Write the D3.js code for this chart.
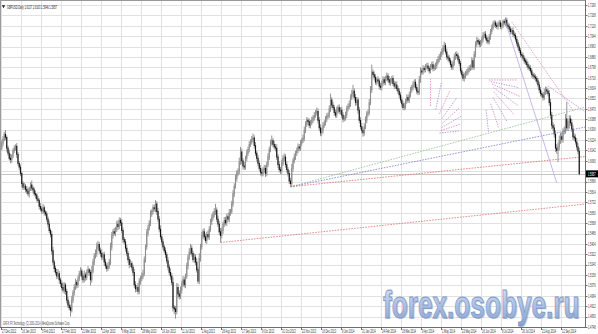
<!DOCTYPE html>
<html>
<head>
<meta charset="utf-8">
<script src="https://cdn.jsdelivr.net/npm/d3@7"></script>
<style>
  body { margin: 0; background: #ffffff; }
  svg { display: block; font-family: 'Liberation Sans', Arial, sans-serif; }
</style>
</head>
<body>
<div id="chart"></div>
<script>
// GBPUSD daily bars, values in pips above 1.0000 (6160 -> 1.6160)
const closes = [
  6160, 6200, 6230, 6270, 6245, 6160, 6120, 6080, 6070, 6100, 6140, 6160, 6175, 6110, 6040, 6010,
  5960, 5880, 5850, 5860, 5835, 5820, 5800, 5840, 5870, 5845, 5830, 5800, 5790, 5760, 5745, 5700,
  5680, 5665, 5690, 5655, 5640, 5600, 5560, 5510, 5480, 5350, 5260, 5210, 5180, 5150, 5170, 5120,
  5090, 5060, 5040, 5080, 5030, 4960, 4920, 4900, 4880, 4960, 5020, 5060, 5100, 5080, 5130, 5170,
  5190, 5150, 5120, 5160, 5140, 5180, 5200, 5180, 5120, 5190, 5260, 5310, 5330, 5380, 5400, 5350,
  5330, 5300, 5320, 5260, 5230, 5210, 5230, 5260, 5380, 5470, 5500, 5490, 5520, 5560, 5540, 5590,
  5570, 5510, 5440, 5420, 5370, 5330, 5280, 5240, 5250, 5220, 5180, 5080, 5050, 5060, 5030, 5110,
  5130, 5150, 5170, 5280, 5380, 5490, 5530, 5570, 5640, 5660, 5690, 5680, 5720, 5660, 5600, 5520,
  5460, 5420, 5380, 5350, 5320, 5270, 5220, 5180, 5150, 5100, 4900, 4890, 4870, 5060, 5010, 4990,
  5040, 5090, 5120, 5080, 5150, 5230, 5300, 5340, 5370, 5330, 5280, 5300, 5260, 5200, 5110, 5290,
  5380, 5470, 5500, 5460, 5430, 5480, 5460, 5520, 5580, 5610, 5640, 5660, 5670, 5600, 5560, 5500,
  5470, 5510, 5560, 5590, 5570, 5620, 5600, 5650, 5660, 5720, 5800, 5860, 5920, 5960, 5980, 6050,
  6130, 6060, 6020, 6010, 6080, 6120, 6150, 6190, 6210, 6230, 6240, 6180, 6120, 6080, 6040, 6000,
  5970, 5960, 5990, 6000, 5960, 6030, 6090, 6150, 6200, 6220, 6190, 6170, 6160, 6090, 6030, 5990,
  5980, 6040, 6080, 6090, 6030, 5990, 5960, 5900, 5880, 6000, 6060, 6090, 6120, 6140, 6170, 6160,
  6200, 6220, 6240, 6300, 6350, 6380, 6370, 6340, 6360, 6380, 6400, 6420, 6440, 6450, 6380, 6320,
  6280, 6300, 6340, 6360, 6390, 6410, 6420, 6470, 6540, 6500, 6480, 6440, 6420, 6460, 6480, 6450,
  6460, 6420, 6390, 6400, 6420, 6470, 6490, 6510, 6560, 6590, 6610, 6560, 6520, 6540, 6460, 6380,
  6330, 6300, 6280, 6330, 6380, 6430, 6440, 6520, 6620, 6760, 6740, 6720, 6680, 6700, 6690, 6650,
  6640, 6670, 6700, 6680, 6710, 6730, 6700, 6680, 6690, 6710, 6670, 6650, 6660, 6630, 6610, 6580,
  6540, 6510, 6480, 6490, 6530, 6560, 6540, 6580, 6620, 6640, 6660, 6680, 6640, 6610, 6600, 6700,
  6770, 6760, 6790, 6780, 6800, 6810, 6790, 6770, 6800, 6820, 6790, 6800, 6810, 6840, 6860, 6880,
  6900, 6920, 6950, 6970, 6920, 6880, 6870, 6850, 6820, 6800, 6830, 6880, 6900, 6890, 6860, 6830,
  6770, 6740, 6710, 6730, 6750, 6760, 6780, 6790, 6800, 6850, 6800, 6900, 6980, 7010, 7000, 6980,
  6990, 7020, 7050, 7060, 7030, 7010, 7000, 7040, 7080, 7110, 7140, 7150, 7130, 7120, 7140, 7150,
  7120, 7130, 7160, 7150, 7170, 7130, 7120, 7100, 7080, 7090, 7060, 7050, 7020, 6990, 6960, 6930,
  6900, 6890, 6870, 6850, 6840, 6820, 6800, 6790, 6770, 6740, 6730, 6720, 6710, 6690, 6660, 6620,
  6590, 6580, 6560, 6600, 6620, 6610, 6590, 6520, 6420, 6340, 6320, 6270, 6160, 6140, 6170, 6220,
  6250, 6230, 6290, 6300, 6390, 6320, 6340, 6390, 6360, 6310, 6250, 6240, 6210, 6170, 6137, 5957
];

const opens = [
  6140, 6160, 6200, 6230, 6270, 6245, 6160, 6120, 6080, 6070, 6100, 6140, 6160, 6175, 6110, 6040,
  6010, 5960, 5880, 5850, 5860, 5835, 5820, 5800, 5840, 5870, 5845, 5830, 5800, 5790, 5760, 5745,
  5700, 5680, 5665, 5690, 5655, 5640, 5600, 5560, 5510, 5480, 5350, 5260, 5210, 5180, 5150, 5170,
  5120, 5090, 5060, 5040, 5080, 5030, 4960, 4920, 4900, 4880, 4960, 5020, 5060, 5100, 5080, 5130,
  5170, 5190, 5150, 5120, 5160, 5140, 5180, 5200, 5180, 5120, 5190, 5260, 5310, 5330, 5380, 5400,
  5350, 5330, 5300, 5320, 5260, 5230, 5210, 5230, 5260, 5380, 5470, 5500, 5490, 5520, 5560, 5540,
  5590, 5570, 5510, 5440, 5420, 5370, 5330, 5280, 5240, 5250, 5220, 5180, 5080, 5050, 5060, 5030,
  5110, 5130, 5150, 5170, 5280, 5380, 5490, 5530, 5570, 5640, 5660, 5690, 5680, 5720, 5660, 5600,
  5520, 5460, 5420, 5380, 5350, 5320, 5270, 5220, 5180, 5150, 5100, 4900, 4890, 4870, 5060, 5010,
  4990, 5040, 5090, 5120, 5080, 5150, 5230, 5300, 5340, 5370, 5330, 5280, 5300, 5260, 5200, 5110,
  5290, 5380, 5470, 5500, 5460, 5430, 5480, 5460, 5520, 5580, 5610, 5640, 5660, 5670, 5600, 5560,
  5500, 5470, 5510, 5560, 5590, 5570, 5620, 5600, 5650, 5660, 5720, 5800, 5860, 5920, 5960, 5980,
  6050, 6130, 6060, 6020, 6010, 6080, 6120, 6150, 6190, 6210, 6230, 6240, 6180, 6120, 6080, 6040,
  6000, 5970, 5960, 5990, 6000, 5960, 6030, 6090, 6150, 6200, 6220, 6190, 6170, 6160, 6090, 6030,
  5990, 5980, 6040, 6080, 6090, 6030, 5990, 5960, 5900, 5880, 6000, 6060, 6090, 6120, 6140, 6170,
  6160, 6200, 6220, 6240, 6300, 6350, 6380, 6370, 6340, 6360, 6380, 6400, 6420, 6440, 6450, 6380,
  6320, 6280, 6300, 6340, 6360, 6390, 6410, 6420, 6470, 6540, 6500, 6480, 6440, 6420, 6460, 6480,
  6450, 6460, 6420, 6390, 6400, 6420, 6470, 6490, 6510, 6560, 6590, 6610, 6560, 6520, 6540, 6460,
  6380, 6330, 6300, 6280, 6330, 6380, 6430, 6440, 6520, 6620, 6760, 6740, 6720, 6680, 6700, 6690,
  6650, 6640, 6670, 6700, 6680, 6710, 6730, 6700, 6680, 6690, 6710, 6670, 6650, 6660, 6630, 6610,
  6580, 6540, 6510, 6480, 6490, 6530, 6560, 6540, 6580, 6620, 6640, 6660, 6680, 6640, 6610, 6600,
  6700, 6770, 6760, 6790, 6780, 6800, 6810, 6790, 6770, 6800, 6820, 6790, 6800, 6810, 6840, 6860,
  6880, 6900, 6920, 6950, 6970, 6920, 6880, 6870, 6850, 6820, 6800, 6830, 6880, 6900, 6890, 6860,
  6830, 6770, 6740, 6710, 6730, 6750, 6760, 6780, 6790, 6800, 6850, 6800, 6900, 6980, 7010, 7000,
  6980, 6990, 7020, 7050, 7060, 7030, 7010, 7000, 7040, 7080, 7110, 7140, 7150, 7130, 7120, 7140,
  7150, 7120, 7130, 7160, 7150, 7170, 7130, 7120, 7100, 7080, 7090, 7060, 7050, 7020, 6990, 6960,
  6930, 6900, 6890, 6870, 6850, 6840, 6820, 6800, 6790, 6770, 6740, 6730, 6720, 6710, 6690, 6660,
  6620, 6590, 6580, 6560, 6600, 6620, 6610, 6590, 6520, 6420, 6340, 6320, 6270, 6160, 6140, 6170,
  6220, 6250, 6230, 6290, 6300, 6390, 6320, 6340, 6390, 6360, 6310, 6250, 6240, 6210, 6170, 6137
];

// shadow lengths in pips: high above the body, low below the body
const upperWick = [
  18, 22, 25, 20, 33, 15, 20, 28, 35, 12, 18, 22, 15, 25, 20, 18,
  22, 15, 20, 28, 18, 25, 30, 16, 22, 35, 18, 20, 25, 15, 22, 18,
  25, 20, 30, 18, 15, 22, 20, 28, 16, 25, 30, 18, 22, 26, 35, 20,
  18, 25, 40, 22, 15, 20, 28, 30, 24, 35, 20, 26, 30, 18, 25, 22,
  30, 20, 25, 35, 18, 22, 28, 15, 20, 40, 26, 22, 30, 35, 28, 20,
  25, 32, 18, 22, 26, 20, 30, 25, 35, 28, 22, 30, 18, 26, 32, 24,
  20, 30, 25, 18, 22, 28, 20, 24, 30, 18, 22, 26, 30, 20, 35, 24,
  22, 28, 30, 25, 20, 32, 26, 22, 30, 18, 24, 26, 30, 20, 28, 25,
  30, 22, 25, 18, 26, 20, 28, 22, 30, 24, 40, 20, 25, 35, 30, 26,
  28, 22, 30, 25, 20, 26, 22, 30, 35, 25, 20, 28, 24, 30, 22, 40,
  26, 30, 22, 28, 25, 20, 30, 24, 22, 28, 20, 26, 50, 22, 28, 25,
  30, 22, 20, 26, 28, 22, 25, 30, 20, 24, 28, 22, 30, 25, 20, 35,
  40, 25, 22, 30, 20, 28, 22, 25, 20, 26, 35, 22, 28, 20, 25, 22,
  26, 30, 22, 28, 25, 24, 30, 22, 28, 40, 20, 26, 24, 30, 22, 28,
  22, 30, 26, 28, 22, 25, 20, 24, 26, 35, 22, 28, 20, 24, 26, 22,
  25, 20, 28, 30, 22, 26, 20, 24, 22, 28, 20, 25, 22, 30, 24, 26,
  28, 22, 25, 20, 24, 26, 22, 28, 50, 22, 26, 20, 24, 28, 22, 25,
  22, 26, 24, 20, 28, 25, 22, 26, 24, 30, 50, 22, 28, 24, 20, 26,
  24, 28, 22, 26, 30, 22, 25, 28, 30, 60, 22, 26, 24, 20, 28, 22,
  26, 22, 28, 24, 20, 26, 22, 28, 24, 20, 26, 22, 25, 28, 22, 24,
  22, 26, 24, 28, 20, 25, 22, 26, 24, 20, 28, 22, 25, 24, 20, 30,
  28, 22, 25, 20, 24, 22, 26, 20, 24, 22, 25, 20, 24, 22, 26, 24,
  22, 25, 24, 30, 20, 26, 22, 24, 20, 25, 22, 26, 20, 24, 22, 25,
  20, 24, 22, 26, 20, 24, 22, 25, 20, 28, 22, 26, 24, 28, 22, 20,
  24, 22, 26, 20, 24, 22, 25, 22, 20, 24, 22, 20, 18, 22, 20, 22,
  20, 18, 15, 20, 20, 22, 20, 24, 22, 20, 24, 22, 20, 24, 22, 20,
  22, 20, 24, 22, 20, 25, 22, 20, 24, 22, 20, 24, 22, 20, 25, 22,
  24, 22, 20, 30, 26, 24, 22, 28, 30, 26, 24, 28, 30, 32, 35, 40,
  30, 35, 28, 30, 40, 135, 35, 30, 28, 30, 32, 26, 28, 30, 30, 26
];

const lowerWick = [
  20, 18, 25, 15, 22, 28, 20, 18, 30, 25, 20, 18, 22, 28, 20, 25,
  22, 28, 20, 18, 25, 22, 20, 30, 18, 22, 25, 20, 28, 22, 18, 25,
  20, 25, 22, 28, 18, 22, 26, 20, 25, 30, 22, 28, 20, 25, 22, 30,
  25, 22, 20, 30, 28, 25, 22, 20, 50, 18, 22, 25, 20, 28, 22, 20,
  22, 28, 25, 20, 26, 22, 25, 30, 45, 22, 20, 25, 22, 28, 20, 25,
  28, 22, 25, 30, 22, 26, 20, 24, 22, 28, 25, 20, 26, 22, 28, 20,
  25, 22, 28, 20, 26, 24, 22, 28, 20, 25, 30, 22, 28, 24, 26, 22,
  28, 22, 25, 20, 24, 22, 26, 20, 25, 22, 24, 20, 26, 28, 22, 25,
  22, 26, 24, 20, 28, 22, 25, 24, 28, 22, 30, 40, 56, 22, 30, 25,
  22, 28, 24, 20, 26, 22, 28, 24, 22, 26, 20, 28, 25, 22, 20, 24,
  26, 22, 28, 24, 20, 26, 22, 24, 20, 26, 22, 25, 28, 24, 22, 26,
  55, 22, 26, 24, 20, 25, 22, 26, 24, 20, 22, 25, 20, 24, 22, 25,
  22, 26, 28, 24, 20, 25, 22, 24, 20, 22, 25, 24, 22, 26, 24, 22,
  26, 24, 22, 25, 28, 22, 20, 24, 22, 20, 24, 22, 26, 24, 28, 22,
  24, 22, 20, 26, 24, 22, 25, 24, 25, 22, 26, 20, 24, 22, 20, 24,
  22, 24, 20, 26, 22, 24, 28, 22, 24, 20, 22, 24, 20, 22, 26, 24,
  26, 22, 24, 20, 22, 24, 20, 22, 24, 26, 22, 24, 20, 22, 24, 22,
  24, 22, 26, 20, 22, 24, 20, 22, 24, 20, 22, 24, 26, 22, 28, 24,
  22, 24, 30, 22, 20, 24, 22, 20, 22, 24, 22, 26, 20, 24, 22, 26,
  22, 24, 20, 22, 24, 20, 22, 24, 26, 22, 20, 24, 22, 20, 24, 26,
  22, 24, 20, 22, 24, 20, 22, 24, 20, 22, 24, 22, 20, 24, 22, 20,
  24, 22, 20, 24, 22, 20, 24, 22, 20, 22, 24, 20, 22, 24, 20, 22,
  24, 20, 22, 24, 20, 22, 24, 20, 22, 24, 22, 20, 24, 22, 20, 24,
  22, 20, 20, 24, 22, 20, 24, 22, 20, 24, 22, 20, 24, 22, 20, 24,
  22, 20, 24, 22, 20, 24, 22, 20, 24, 22, 20, 24, 22, 20, 24, 22,
  20, 24, 22, 20, 24, 22, 20, 24, 22, 20, 24, 22, 20, 24, 22, 20,
  24, 22, 20, 24, 22, 20, 24, 22, 20, 24, 22, 20, 24, 22, 20, 24,
  22, 20, 24, 22, 20, 24, 22, 26, 28, 30, 24, 28, 30, 26, 90, 28,
  26, 24, 28, 22, 26, 24, 22, 26, 24, 22, 26, 24, 22, 24, 26, 11
];

// right price scale
const priceTicks = [
  1.7290, 1.7208, 1.7126, 1.7044, 1.6962, 1.6880, 1.6798, 1.6716,
  1.6634, 1.6552, 1.6470, 1.6388, 1.6306, 1.6224, 1.6142, 1.6060,
  1.5978, 1.5896, 1.5814, 1.5732, 1.5650, 1.5568, 1.5486, 1.5404,
  1.5322, 1.5240, 1.5158, 1.5076, 1.4994, 1.4912, 1.4830, 1.4748
];

// time scale labels, one every 16 bars
const dateLabels = [
  '27 Dec 2012', '16 Jan 2013', '5 Feb 2013', '27 Feb 2013', '21 Mar 2013', '12 Apr 2013',
  '6 May 2013', '28 May 2013', '19 Jun 2013', '11 Jul 2013', '2 Aug 2013', '26 Aug 2013',
  '17 Sep 2013', '9 Oct 2013', '31 Oct 2013', '22 Nov 2013', '16 Dec 2013', '9 Jan 2014',
  '31 Jan 2014', '24 Feb 2014', '18 Mar 2014', '9 Apr 2014', '1 May 2014', '23 May 2014',
  '16 Jun 2014', '8 Jul 2014', '30 Jul 2014', '21 Aug 2014', '12 Sep 2014'
];

// drawn objects, anchors as [bar, pips]
const trendLines = [
  [[232, 5855], [468, 6485]],
  [[232, 5855], [468, 6327]],
  [[232, 5855], [468, 6094]],
  [[176, 5415], [468, 5719]],
  [[404, 7156], [445, 5885]],
  [[409, 7156], [459, 6445]],
  [[438, 6651], [468, 6445]]
];
const trendColors = ['#8fbf8f', '#7b7bd6', '#e26a6a', '#e07070', '#b9a6e6', '#e58fb8', '#b48cc8'];

const leftFan = [
  [344, 6493, 344, 6706], [348.2, 6465, 352.6, 6674], [351.2, 6431, 359.6, 6618],
  [353.0, 6393, 364.7, 6553], [353.5, 6356, 367.8, 6483], [353.0, 6323, 368.9, 6414],
  [352.4, 6299, 368.3, 6350], [351.2, 6279, 367.9, 6297]
];
const rightFan = [
  [390.8, 6698, 413.2, 6698], [392.3, 6685, 414.9, 6637], [393.3, 6666, 415.3, 6569],
  [394.4, 6638, 413.8, 6498], [394.6, 6604, 410.6, 6428], [394.0, 6561, 405.2, 6370],
  [392.2, 6510, 398.4, 6323], [388.5, 6462, 390.4, 6290]
];

// SVG Canvas Parameters
const svgWidth = 598;
const svgHeight = 334;
const plotRight = 585.5;
const plotBottom = 327.5;

const pipPrice = (v) => 1 + v / 10000;
const fmt = d3.format('.4f');

const bars = closes.map((c, i) => {
  const o = opens[i];
  return {
    i: i,
    o: pipPrice(o),
    c: pipPrice(c),
    h: pipPrice(Math.max(o, c) + upperWick[i]),
    l: pipPrice(Math.min(o, c) - lowerWick[i])
  };
});
const last = bars[bars.length - 1];

const svg = d3.select('#chart')
  .append('svg')
  .attr('width', svgWidth)
  .attr('height', svgHeight);

// Building Scaling Functions
const xScale = d3.scaleLinear()
  .domain([0, 463])
  .range([0.5, 579.25]);

const yScale = d3.scaleLinear()
  .domain([1.4748, 1.7290])
  .range([327, 5]);

const squeeze = (x, y) => `translate(${x},${y}) scale(0.5,1)`;

svg.append('defs').append('clipPath')
  .attr('id', 'plot')
  .append('rect')
  .attr('x', 0).attr('y', 0)
  .attr('width', plotRight).attr('height', plotBottom);

// grid
const grid = svg.append('g').attr('stroke', '#e1e1e1').attr('stroke-width', 1);
grid.selectAll('line.h')
  .data(priceTicks)
  .enter()
  .append('line')
  .attr('class', 'h')
  .attr('x1', 0).attr('x2', plotRight)
  .attr('y1', (d) => Math.round(yScale(d)) + 0.5)
  .attr('y2', (d) => Math.round(yScale(d)) + 0.5);
grid.selectAll('line.v')
  .data(dateLabels)
  .enter()
  .append('line')
  .attr('class', 'v')
  .attr('x1', (d, k) => Math.round(xScale(k * 16)) + 0.5)
  .attr('x2', (d, k) => Math.round(xScale(k * 16)) + 0.5)
  .attr('y1', 0).attr('y2', plotBottom);

// watermark
const grad = svg.select('defs').append('linearGradient')
  .attr('id', 'wm').attr('x1', 0).attr('y1', 0).attr('x2', 0).attr('y2', 1);
grad.append('stop').attr('offset', '0%').attr('stop-color', '#dbe6f6');
grad.append('stop').attr('offset', '55%').attr('stop-color', '#a9bfe3');
grad.append('stop').attr('offset', '100%').attr('stop-color', '#87a2d1');

svg.append('text')
  .attr('transform', 'translate(384.2,319.2) scale(0.69,1)')
  .attr('font-size', 38).attr('font-weight', 'bold')
  .attr('fill', '#9aa6ba').attr('opacity', 0.55)
  .text('forex.osobye.ru');
svg.append('text')
  .attr('transform', 'translate(383,318) scale(0.69,1)')
  .attr('font-size', 38).attr('font-weight', 'bold')
  .attr('fill', 'url(#wm)')
  .attr('stroke', '#7f98c6').attr('stroke-width', 0.9)
  .text('forex.osobye.ru');

// bid line
svg.append('line')
  .attr('x1', 0).attr('x2', plotRight)
  .attr('y1', Math.round(yScale(last.c)) + 0.5)
  .attr('y2', Math.round(yScale(last.c)) + 0.5)
  .attr('stroke', '#c4c4c4');

// Plotting candles
const candles = svg.append('g').attr('clip-path', 'url(#plot)');
candles.selectAll('line.wick')
  .data(bars)
  .enter()
  .append('line')
  .attr('class', 'wick')
  .attr('x1', (d) => xScale(d.i)).attr('x2', (d) => xScale(d.i))
  .attr('y1', (d) => yScale(d.h)).attr('y2', (d) => yScale(d.l))
  .attr('stroke', '#8a8a8a')
  .attr('stroke-width', 0.9);
candles.selectAll('line.body')
  .data(bars)
  .enter()
  .append('line')
  .attr('class', 'body')
  .attr('x1', (d) => xScale(d.i)).attr('x2', (d) => xScale(d.i))
  .attr('y1', (d) => yScale(Math.max(d.o, d.c)) - 0.4)
  .attr('y2', (d) => yScale(Math.min(d.o, d.c)) + 0.4)
  .attr('stroke', (d) => d.c < d.o ? '#141414' : '#8e8e8e')
  .attr('stroke-width', 1.15);

// drawn objects
const objects = svg.append('g').attr('clip-path', 'url(#plot)').attr('fill', 'none');
objects.selectAll('line.trend')
  .data(trendLines)
  .enter()
  .append('line')
  .attr('class', 'trend')
  .attr('x1', (d) => xScale(d[0][0])).attr('y1', (d) => yScale(pipPrice(d[0][1])))
  .attr('x2', (d) => xScale(d[1][0])).attr('y2', (d) => yScale(pipPrice(d[1][1])))
  .attr('stroke', (d, k) => trendColors[k])
  .attr('stroke-width', 0.8)
  .attr('stroke-dasharray', (d, k) => k === 4 ? null : '1.6,1.2');

objects.selectAll('line.fan')
  .data(leftFan.concat(rightFan))
  .enter()
  .append('line')
  .attr('class', 'fan')
  .attr('x1', (d) => xScale(d[0])).attr('y1', (d) => yScale(pipPrice(d[1])))
  .attr('x2', (d) => xScale(d[2])).attr('y2', (d) => yScale(pipPrice(d[3])))
  .attr('stroke', (d, k) => k % 2 ? '#a585e0' : '#e07cb4')
  .attr('stroke-width', 0.8)
  .attr('stroke-dasharray', '1.4,1.2');

// frame and axes
svg.append('rect')
  .attr('x', 0.5).attr('y', 0.5)
  .attr('width', plotRight - 0.5).attr('height', plotBottom - 0.5)
  .attr('fill', 'none').attr('stroke', '#9a9a9a');
svg.append('line')
  .attr('x1', plotRight).attr('x2', plotRight).attr('y1', 0).attr('y2', plotBottom)
  .attr('stroke', '#6e6e6e');
svg.append('line')
  .attr('x1', 0).attr('x2', plotRight).attr('y1', plotBottom).attr('y2', plotBottom)
  .attr('stroke', '#6e6e6e');

// the current price tag hides the scale label under it, as in the terminal
const visibleTicks = priceTicks.filter((d) => Math.abs(yScale(d) - yScale(last.c)) > 6);

const yAxis = svg.append('g').attr('font-size', 5).attr('fill', '#333');
yAxis.selectAll('line')
  .data(priceTicks)
  .enter()
  .append('line')
  .attr('x1', plotRight).attr('x2', plotRight + 2)
  .attr('y1', (d) => Math.round(yScale(d)) + 0.5)
  .attr('y2', (d) => Math.round(yScale(d)) + 0.5)
  .attr('stroke', '#6e6e6e');
yAxis.selectAll('text')
  .data(visibleTicks)
  .enter()
  .append('text')
  .attr('transform', (d) => squeeze(588, yScale(d) + 1.8))
  .text((d) => fmt(d));

const xAxis = svg.append('g').attr('font-size', 5).attr('fill', '#333');
xAxis.selectAll('line')
  .data(dateLabels)
  .enter()
  .append('line')
  .attr('x1', (d, k) => Math.round(xScale(k * 16)) + 0.5)
  .attr('x2', (d, k) => Math.round(xScale(k * 16)) + 0.5)
  .attr('y1', plotBottom).attr('y2', plotBottom + 2.5)
  .attr('stroke', '#6e6e6e');
xAxis.selectAll('text')
  .data(dateLabels)
  .enter()
  .append('text')
  .attr('transform', (d, k) => squeeze(xScale(k * 16) + 1.5, 333.2))
  .text((d) => d);

// current price tag
svg.append('rect')
  .attr('x', plotRight + 0.5).attr('y', yScale(last.c) - 3.5)
  .attr('width', 12).attr('height', 7)
  .attr('fill', '#000');
svg.append('text')
  .attr('transform', squeeze(588, yScale(last.c) + 1.8))
  .attr('font-size', 5).attr('fill', '#fff')
  .text(fmt(last.c));

// chart caption
svg.append('path')
  .attr('d', 'M1.8,5.2 L5.2,5.2 L3.5,8.2 Z')
  .attr('fill', '#222');
svg.append('text')
  .attr('transform', squeeze(7, 8.6))
  .attr('font-size', 5).attr('fill', '#222')
  .text(`GBPUSD,Daily  ${fmt(last.o)} ${fmt(last.h)} ${fmt(last.l)} ${fmt(last.c)}`);

svg.append('text')
  .attr('transform', squeeze(3, 325.3))
  .attr('font-size', 4.6).attr('fill', '#444')
  .text('GKFX FX Technology (C) 2001-2014, MetaQuotes Software Corp.');
</script>
</body>
</html>
